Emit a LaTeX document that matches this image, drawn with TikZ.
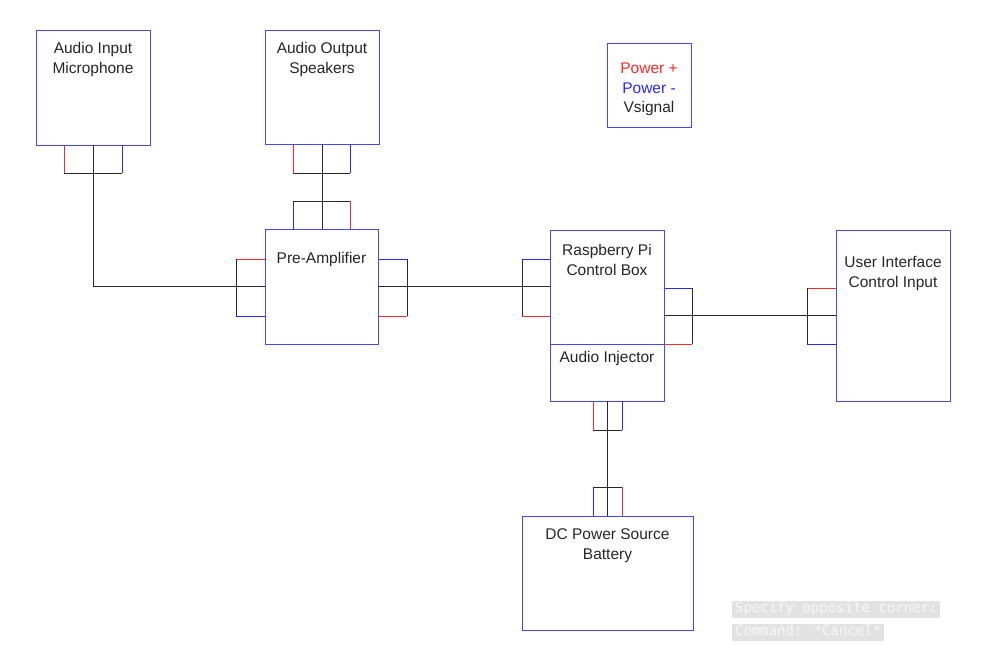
\documentclass[tikz,border=0pt]{standalone}
\usepackage{fontspec}
\setmainfont{Liberation Sans}
\newfontfamily\cmdfont{DejaVu Sans Mono}
\definecolor{boxblue}{RGB}{70,70,255}
\definecolor{portred}{RGB}{255,40,40}
\definecolor{portblue}{RGB}{40,40,255}
\definecolor{wire}{RGB}{40,40,40}
\definecolor{cmdbg}{RGB}{226,226,226}
\definecolor{cmdfg}{RGB}{246,246,246}
\tikzset{
  bx/.style={draw=boxblue, line width=1pt, inner sep=0pt, outer sep=0pt},
  lbl/.style={font=\fontsize{15.5}{19.6}\selectfont, text=black!85, align=center, inner sep=0pt, anchor=base},
  rd/.style={draw=portred, line width=1pt},
  bl/.style={draw=portblue, line width=1pt},
  wk/.style={draw=wire, line width=1pt},
  cmd/.style={fill=cmdbg, text=cmdfg, font=\cmdfont\fontsize{14}{14}\selectfont, inner xsep=2.9pt, inner ysep=0pt, text height=11pt, text depth=3.5pt, minimum height=17pt, anchor=north west}
}
\begin{document}
\begin{tikzpicture}[x=1pt,y=-1pt]
\useasboundingbox[fill=white] (0,0) rectangle (1004,648);

% ports (drawn first so boxes sit on top)
% microphone bottom port
\draw[rd] (64,145) -- (64,173);
\draw[bl] (122,145) -- (122,173);
\draw[wk] (64,173) -- (122,173);
% speakers bottom port
\draw[rd] (293,144) -- (293,173);
\draw[bl] (350,144) -- (350,173);
\draw[wk] (293,173) -- (350,173);
% pre-amp top port
\draw[bl] (293,229) -- (293,201);
\draw[rd] (350,229) -- (350,201);
\draw[wk] (293,201) -- (350,201);
% pre-amp left port
\draw[rd] (265,259) -- (236,259);
\draw[bl] (265,316) -- (236,316);
\draw[wk] (236,259) -- (236,316);
% pre-amp right port
\draw[bl] (378,259) -- (407,259);
\draw[rd] (378,316) -- (407,316);
\draw[wk] (407,259) -- (407,316);
% raspberry pi left port
\draw[bl] (550,259) -- (522,259);
\draw[rd] (550,316) -- (522,316);
\draw[wk] (522,259) -- (522,316);
% raspberry pi right port
\draw[bl] (664,288) -- (692,288);
\draw[rd] (664,344) -- (692,344);
\draw[wk] (692,288) -- (692,344);
% user interface left port
\draw[rd] (836,288) -- (807,288);
\draw[bl] (836,344) -- (807,344);
\draw[wk] (807,288) -- (807,344);
% audio injector bottom port
\draw[rd] (593,401) -- (593,430);
\draw[bl] (622,401) -- (622,430);
\draw[wk] (593,430) -- (622,430);
% dc power top port
\draw[bl] (593,516) -- (593,487);
\draw[rd] (622,516) -- (622,487);
\draw[wk] (593,487) -- (622,487);

% boxes
\node[bx, minimum width=114pt, minimum height=115pt] (mic) at (93,87.5) {};
\node[bx, minimum width=114pt, minimum height=114pt] (spk) at (322,87) {};
\node[bx, minimum width=113pt, minimum height=115pt] (pre) at (321.5,286.5) {};
\node[bx, minimum width=114pt, minimum height=171pt] (rpi) at (607,315.5) {};
\node[bx, minimum width=114pt, minimum height=171pt] (ui) at (893,315.5) {};
\node[bx, minimum width=171pt, minimum height=114pt] (dc) at (607.5,573) {};
\node[bx, minimum width=84pt, minimum height=84pt] (leg) at (649,85) {};
\coordinate (divl) at (550,344);
\coordinate (divr) at (664,344);
\draw[bx] (divl) -- (divr);

% wires
\draw[wk] (mic.south) |- (pre.west);
\draw[wk] (spk.south) -- (spk.south |- pre.north);
\draw[wk] (pre.east) -- (pre.east -| rpi.west);
\draw[wk] (rpi.east) -- (ui.west);
\draw[wk] (rpi.south) -- (rpi.south |- dc.north);

% labels (base anchor = baseline of the last line)
\node[lbl] (tmic) at (93,73.3) {Audio Input\\Microphone};
\node[lbl] (tspk) at (322,73.3) {Audio Output\\Speakers};
\node[lbl] (tpre) at (321.5,263.3) {Pre-Amplifier};
\node[lbl] (trpi) at (607,275) {Raspberry Pi\\Control Box};
\node[lbl] (tinj) at (607,362.7) {Audio Injector};
\node[lbl] (tui) at (893,287.3) {User Interface\\Control Input};
\node[lbl] (tdc) at (607.5,559.3) {DC Power Source\\Battery};
\node[lbl] (tleg) at (649,112.7) {\textcolor{portred}{Power +}\\\textcolor{portblue}{Power -}\\Vsignal};

% command line messages
\node[cmd] (c1) at (732,600.5) {Specify opposite corner:};
\node[cmd] (c2) at (732,623.5) {Command: *Cancel*};
\end{tikzpicture}
\end{document}
